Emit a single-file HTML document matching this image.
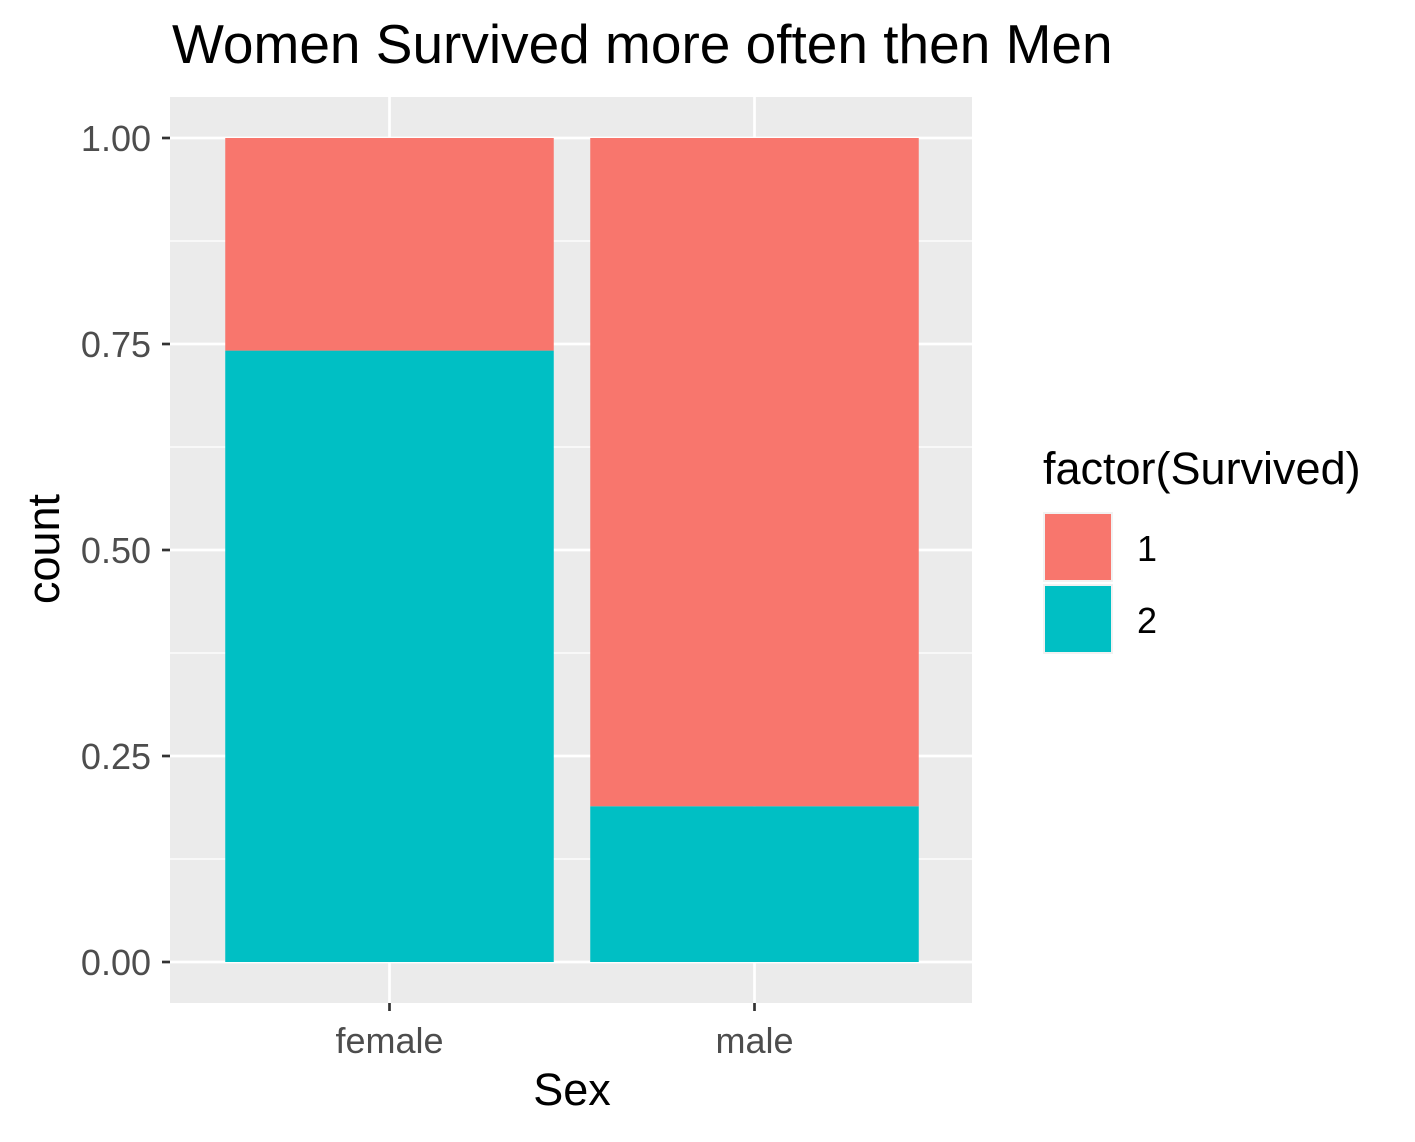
<!DOCTYPE html>
<html><head><meta charset="utf-8"><style>
html,body{margin:0;padding:0;background:#fff;}
svg text{font-family:"Liberation Sans",Arial,sans-serif;}
</style></head><body>
<svg id="chart" width="1415" height="1137" xmlns="http://www.w3.org/2000/svg">
<text x="172" y="63" font-size="55" fill="#000">Women Survived more often then Men</text>
<rect x="170" y="97" width="802" height="906" fill="#ebebeb"/>
<g id="grid"></g>
<g id="bars"></g>
<g id="axes"></g>
<text x="572" y="1105" font-size="45" text-anchor="middle" fill="#000">Sex</text>
<text transform="translate(59,549) rotate(-90)" font-size="45" text-anchor="middle" fill="#000">count</text>
<g>
<text x="1043" y="484" font-size="45" fill="#000">factor(Survived)</text>
<rect x="1043" y="512" width="70" height="70" fill="#f2f2f2"/>
<rect x="1045" y="514" width="66" height="66" fill="#F8766D"/>
<rect x="1043" y="584" width="70" height="70" fill="#f2f2f2"/>
<rect x="1045" y="586" width="66" height="66" fill="#00BFC4"/>
<text x="1137" y="561" font-size="36" fill="#000">1</text>
<text x="1137" y="633" font-size="36" fill="#000">2</text>
</g>
</svg>
<script>
const categories = ["female","male"];
const survived2 = [0.742, 0.189];
const survived1 = [0.258, 0.811];
const yTicks = [0, 0.25, 0.5, 0.75, 1];
const yTickLabels = ["0.00","0.25","0.50","0.75","1.00"];
const NS="http://www.w3.org/2000/svg";
const y = v => 962 - v*824;
const band = 365, x0 = 207;
const xc = i => x0 + band*(i+0.5);
function mk(tag, attrs, parent){const e=document.createElementNS(NS,tag);for(const k in attrs)e.setAttribute(k,attrs[k]);parent.appendChild(e);return e;}
const grid=document.getElementById('grid'), bars=document.getElementById('bars'), axes=document.getElementById('axes');
for(let i=0;i<yTicks.length-1;i++){
  const v=(yTicks[i]+yTicks[i+1])/2;
  const l=mk('line',{x1:170,x2:972,y1:y(v),y2:y(v),stroke:'#fff','stroke-width':1.3},grid);
  
  
}
yTicks.forEach((v,i)=>{
  const l=mk('line',{x1:170,x2:972,y1:y(v),y2:y(v),stroke:'#fff','stroke-width':2.7},grid);
  
  
  const t=mk('line',{x1:162,x2:170,y1:y(v),y2:y(v),stroke:'#333','stroke-width':2.7},axes);
  
  
  const tx=mk('text',{x:151,y:y(v)+13,'font-size':36,'text-anchor':'end',fill:'#4d4d4d'},axes);
  tx.textContent=yTickLabels[i];
  
  
});
categories.forEach((c,i)=>{
  const g=mk('line',{x1:xc(i),x2:xc(i),y1:97,y2:1003,stroke:'#fff','stroke-width':2.7},grid);
  
  
  const w=band*0.9, left=xc(i)-w/2;
  const b2=mk('rect',{x:left,y:y(survived2[i]),width:w,height:y(0)-y(survived2[i]),fill:'#00BFC4'},bars);
  
  
  const top=survived2[i]+survived1[i];
  const b1=mk('rect',{x:left,y:y(top),width:w,height:y(survived2[i])-y(top),fill:'#F8766D'},bars);
  
  
  const t=mk('line',{x1:xc(i),x2:xc(i),y1:1003,y2:1011,stroke:'#333','stroke-width':2.7},axes);
  
  
  const tx=mk('text',{x:xc(i),y:1053,'font-size':36,'text-anchor':'middle',fill:'#4d4d4d'},axes);
  tx.textContent=c;
  
  
});
</script>
</body></html>
